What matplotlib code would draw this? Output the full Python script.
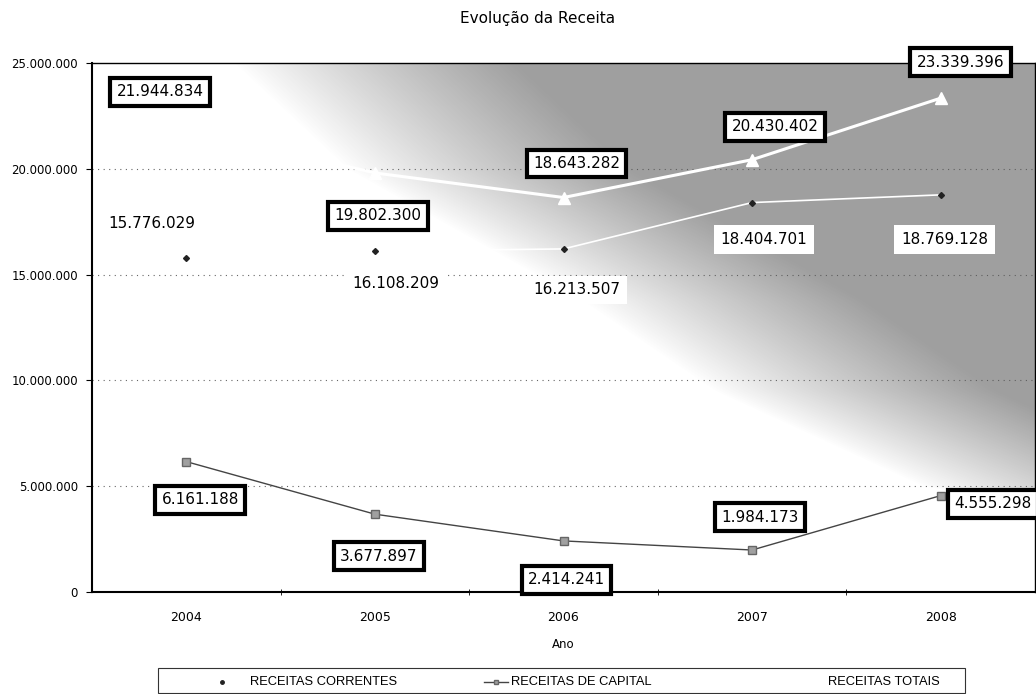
import numpy as np
import matplotlib
matplotlib.use('Agg')
import matplotlib.pyplot as plt
from matplotlib.patches import Rectangle
from matplotlib.lines import Line2D

## dados
anos = ['2004', '2005', '2006', '2007', '2008']
correntes = [15776029, 16108209, 16213507, 18404701, 18769128]
capital = [6161188, 3677897, 2414241, 1984173, 4555298]
totais = [21944834, 19802300, 18643282, 20430402, 23339396]

# deslocamento dos rotulos (pixels)
off_totais = [(-26, 36), (3, -43), (13, 34), (23, 33), (20, 36)]
off_correntes = [(-34, 35), (21, -32), (13, -41), (12, -37), (4, -45)]
off_capital = [(14, -38), (4, -42), (3, -39), (8, 33), (52, -8)]

W, H = 1036, 694

def fmt(v):
    return f"{v:,}".replace(',', '.')

fig = plt.figure(figsize=(W / 100, H / 100), dpi=100)
fig.patch.set_facecolor('white')
ax = fig.add_axes([92 / W, 102 / H, 943 / W, 529 / H])

x = np.arange(len(anos))
ax.set_xlim(-0.5, len(anos) - 0.5)
ax.set_ylim(0, 25000000)

## sombreado de canto
u, v = np.meshgrid(np.linspace(0, 1, 500), np.linspace(1, 0, 400))
ub = np.interp(1 - v, [0, 0.2, 0.45, 0.62, 0.8, 0.84, 1.0],
               [0.15, 0.27, 0.52, 0.66, 0.88, 1.0, 1.3])
d = np.clip((u - ub) / 0.3, 0, 1)
img = np.zeros((400, 500, 4))
img[..., :3] = 0.35
img[..., 3] = 0.58 * d ** 0.9
ax.imshow(img, extent=[-0.5, len(anos) - 0.5, 0, 25000000], aspect='auto',
          zorder=1, interpolation='bilinear')

## grelha
ax.set_yticks(np.arange(0, 25000001, 5000000))
ax.set_yticklabels([fmt(t) for t in np.arange(0, 25000001, 5000000)],
                   fontsize=8.5, family='DejaVu Sans')
for t in [5000000, 10000000, 15000000, 20000000]:
    ax.axhline(t, color='#666666', ls=(0, (1, 4)), lw=0.8, zorder=0.5)

ax.set_xticks(x)
ax.set_xticklabels(anos, fontsize=9)
ax.set_xticks(np.arange(0.5, len(anos) - 1, 1), minor=True)
ax.tick_params(axis='x', which='major', length=0, pad=14)
ax.tick_params(axis='x', which='minor', length=4, direction='inout')
ax.tick_params(axis='y', length=4, direction='out', pad=6)
for s in ax.spines.values():
    s.set_color('black')
    s.set_linewidth(1.0)
ax.spines['left'].set_linewidth(1.5)
ax.spines['bottom'].set_linewidth(1.5)

ax.set_xlabel('Ano', fontsize=8.5, labelpad=10)

## series
ax.plot(x, totais, color='white', lw=2.2, marker='^', ms=9, mfc='white',
        mec='white', zorder=3)
ax.plot(x, correntes, color='white', lw=1.2, marker='D', ms=3, mfc='#222222',
        mec='#222222', zorder=3)
ax.plot(x, capital, color='#444444', lw=1.0, marker='s', ms=6, mfc='#a0a0a0',
        mec='#666666', zorder=3)

box = dict(boxstyle='square,pad=0.42', fc='white', ec='black', lw=3)
for xi, val, o in zip(x, totais, off_totais):
    ax.annotate(fmt(val), (xi, val), xytext=o, textcoords='offset pixels',
                ha='center', va='center', fontsize=11, bbox=box, zorder=5,
                annotation_clip=False)
for xi, val, o in zip(x, capital, off_capital):
    ax.annotate(fmt(val), (xi, val), xytext=o, textcoords='offset pixels',
                ha='center', va='center', fontsize=11, bbox=box, zorder=5,
                annotation_clip=False)
for xi, val, o in zip(x, correntes, off_correntes):
    ax.annotate(fmt(val), (xi, val), xytext=o, textcoords='offset pixels',
                ha='center', va='center', fontsize=11, zorder=5,
                bbox=dict(boxstyle='square,pad=0.45', fc='white', ec='none'))

## titulo
fig.text(538 / W, 1 - 18 / H, 'Evolução da Receita', ha='center', va='center',
         fontsize=11)

## legenda
fig.patches.append(Rectangle((158 / W, 1 - 693 / H), 807 / W, 25 / H,
                             transform=fig.transFigure, fill=False,
                             ec='#333333', lw=0.8))
ly = 1 - 682 / H
fig.lines.append(Line2D([222 / W], [ly], transform=fig.transFigure, marker='o',
                        ms=2.5, color='#222222', ls='none'))
fig.lines.append(Line2D([484 / W, 496 / W, 508 / W], [ly, ly, ly],
                        transform=fig.transFigure, color='#444444', lw=1,
                        marker='s', markevery=[1], ms=3, mfc='#a0a0a0',
                        mec='#666666'))
fig.text(250 / W, ly, 'RECEITAS CORRENTES', va='center', fontsize=9.3,
         family='Liberation Sans')
fig.text(511 / W, ly, 'RECEITAS DE CAPITAL', va='center', fontsize=9.3,
         family='Liberation Sans')
fig.text(828 / W, ly, 'RECEITAS TOTAIS', va='center', fontsize=9.3,
         family='Liberation Sans')

fig.savefig('out.png', dpi=100)
